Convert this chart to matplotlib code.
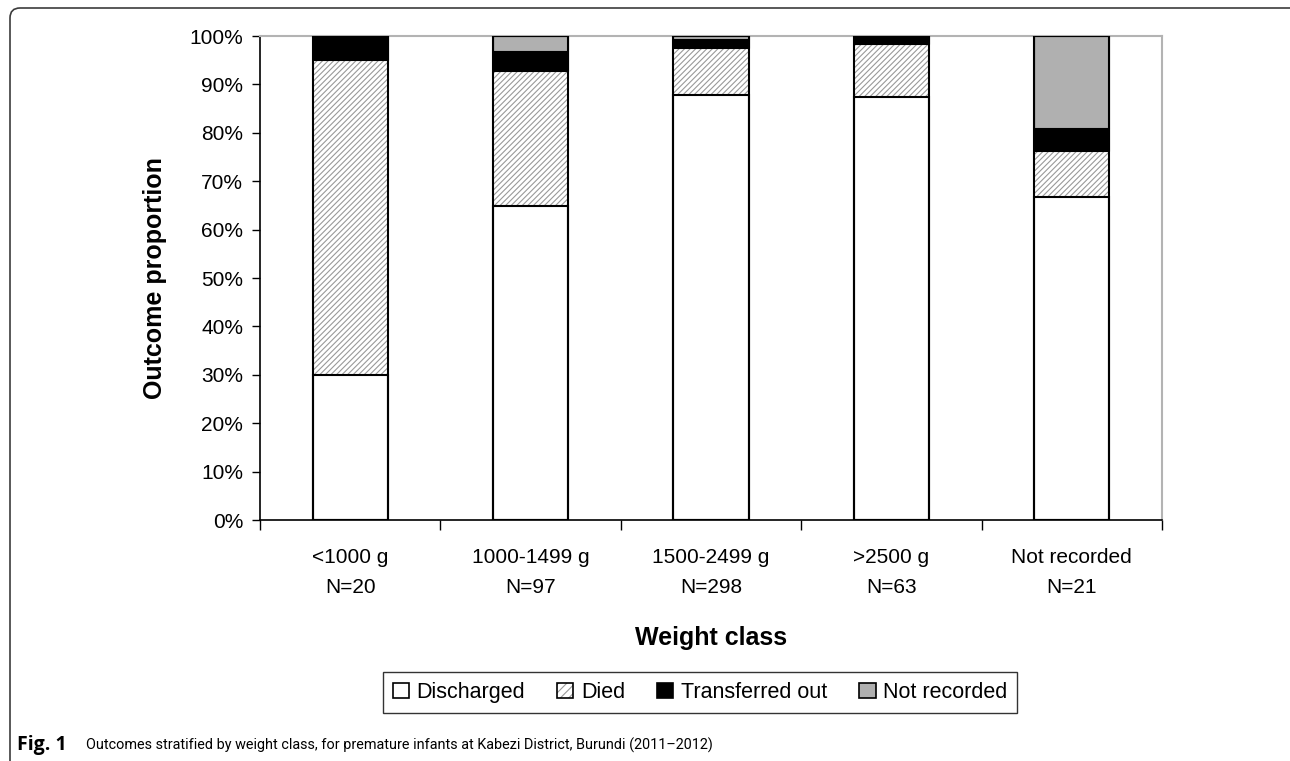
"""stacked outcome proportions by weight class"""
import matplotlib
matplotlib.use("Agg")
import matplotlib.pyplot as plt
from matplotlib.patches import Patch, FancyBboxPatch
from matplotlib.legend_handler import HandlerTuple
import numpy as np

# 体重区分とN数
categories = ["<1000 g", "1000-1499 g", "1500-2499 g", ">2500 g", "Not recorded"]
n_counts = [20, 97, 298, 63, 21]

# 各アウトカムの割合（%）
discharged = [30.0, 64.9, 87.9, 87.3, 66.7]
died = [65.0, 27.8, 9.7, 11.1, 9.5]
transferred = [5.0, 4.1, 1.7, 1.6, 4.8]
not_recorded = [0.0, 3.2, 0.7, 0.0, 19.0]

series_labels = ["Discharged", "Died", "Transferred out", "Not recorded"]

plt.rcParams["font.family"] = ["Liberation Sans", "DejaVu Sans"]
plt.rcParams["hatch.linewidth"] = 0.8

fig = plt.figure(figsize=(12.9, 7.61), dpi=100)
ax = fig.add_axes([260 / 1290, 1 - 520 / 761, 902 / 1290, 484 / 761])

x = np.arange(len(categories))
w = 0.416
hatch_gray = "#999999"
hatch = "//////"

d = np.array(discharged)
dd = np.array(died)
t = np.array(transferred)
nr = np.array(not_recorded)

ax.bar(x, d, w, color="white", edgecolor="black", linewidth=1.5, zorder=3)
# ハッチは灰色、枠線なし
ax.bar(x, dd, w, bottom=d, color="white", edgecolor=hatch_gray,
       linewidth=0, hatch=hatch, zorder=2)
ax.bar(x, t, w, bottom=d + dd, color="black", edgecolor="black",
       linewidth=0.8, zorder=3)
ax.bar(x, nr, w, bottom=d + dd + t, color="#b0b0b0", edgecolor="black",
       linewidth=0.8, zorder=3)
# 全体の外枠
ax.bar(x, d + dd + t + nr, w, fill=False, edgecolor="black",
       linewidth=1.5, zorder=4)

ax.set_xlim(-0.5, len(categories) - 0.5)
ax.set_ylim(0, 100)
ax.set_yticks(np.arange(0, 101, 10))
ax.set_yticklabels([f"{v}%" for v in range(0, 101, 10)], fontsize=15)
ax.tick_params(axis="y", direction="out", length=6, width=1, pad=6)

ax.set_xticks(x)
ax.set_xticklabels([f"{c}\nN={n}" for c, n in zip(categories, n_counts)],
                   fontsize=15, linespacing=1.75)
ax.tick_params(axis="x", which="major", length=0, pad=20)
ax.set_xticks(np.arange(-0.5, len(categories), 1.0), minor=True)
ax.tick_params(axis="x", which="minor", direction="out", length=7, width=1)

for side in ["top", "right"]:
    ax.spines[side].set_color("#b3b3b3")
    ax.spines[side].set_linewidth(1.5)
for side in ["left", "bottom"]:
    ax.spines[side].set_color("black")
    ax.spines[side].set_linewidth(1.2)

ax.set_ylabel("Outcome proportion", fontsize=18, fontweight="bold")
ax.yaxis.set_label_coords(-0.103, 0.5)
ax.set_xlabel("Weight class", fontsize=18, fontweight="bold")
ax.xaxis.set_label_coords(0.5, -0.219)

# 凡例（ハッチは灰色＋黒枠）
h_dis = Patch(facecolor="white", edgecolor="black", linewidth=1.2)
h_died = (Patch(facecolor="white", edgecolor=hatch_gray, hatch="////", linewidth=0),
          Patch(fill=False, edgecolor="black", linewidth=1.2))
h_tr = Patch(facecolor="black", edgecolor="black", linewidth=1.2)
h_nr = Patch(facecolor="#b0b0b0", edgecolor="black", linewidth=1.2)
leg = fig.legend([h_dis, h_died, h_tr, h_nr], series_labels,
                 handler_map={tuple: HandlerTuple(ndivide=1)},
                 loc="center", bbox_to_anchor=(700 / 1290, 1 - 692.5 / 761),
                 ncol=4, fontsize=15.5, frameon=True, fancybox=False,
                 handlelength=0.75, handleheight=0.75, handletextpad=0.35,
                 columnspacing=1.5, borderpad=0.45, borderaxespad=0)
leg.get_frame().set_edgecolor("black")
leg.get_frame().set_linewidth(1.0)

# 図の外枠（左上の角丸）
frame = FancyBboxPatch((10, -50), 1400, 761 - 8 + 50,
                       boxstyle="round,pad=0,rounding_size=10",
                       transform=None, fill=False, edgecolor="#3c3c3c",
                       linewidth=1.2)
fig.add_artist(frame)

# キャプション
fig.text(17 / 1290, 1 - 745 / 761, "Fig. 1", fontsize=14, fontweight="bold",
         family=["Open Sans", "DejaVu Sans"], va="center", ha="left")
fig.text(86 / 1290, 1 - 745 / 761,
         "Outcomes stratified by weight class, for premature infants at "
         "Kabezi District, Burundi (2011\u20132012)",
         fontsize=10.4, family=["Roboto", "DejaVu Sans"],
         va="center", ha="left")

fig.savefig("out.png", dpi=100)
